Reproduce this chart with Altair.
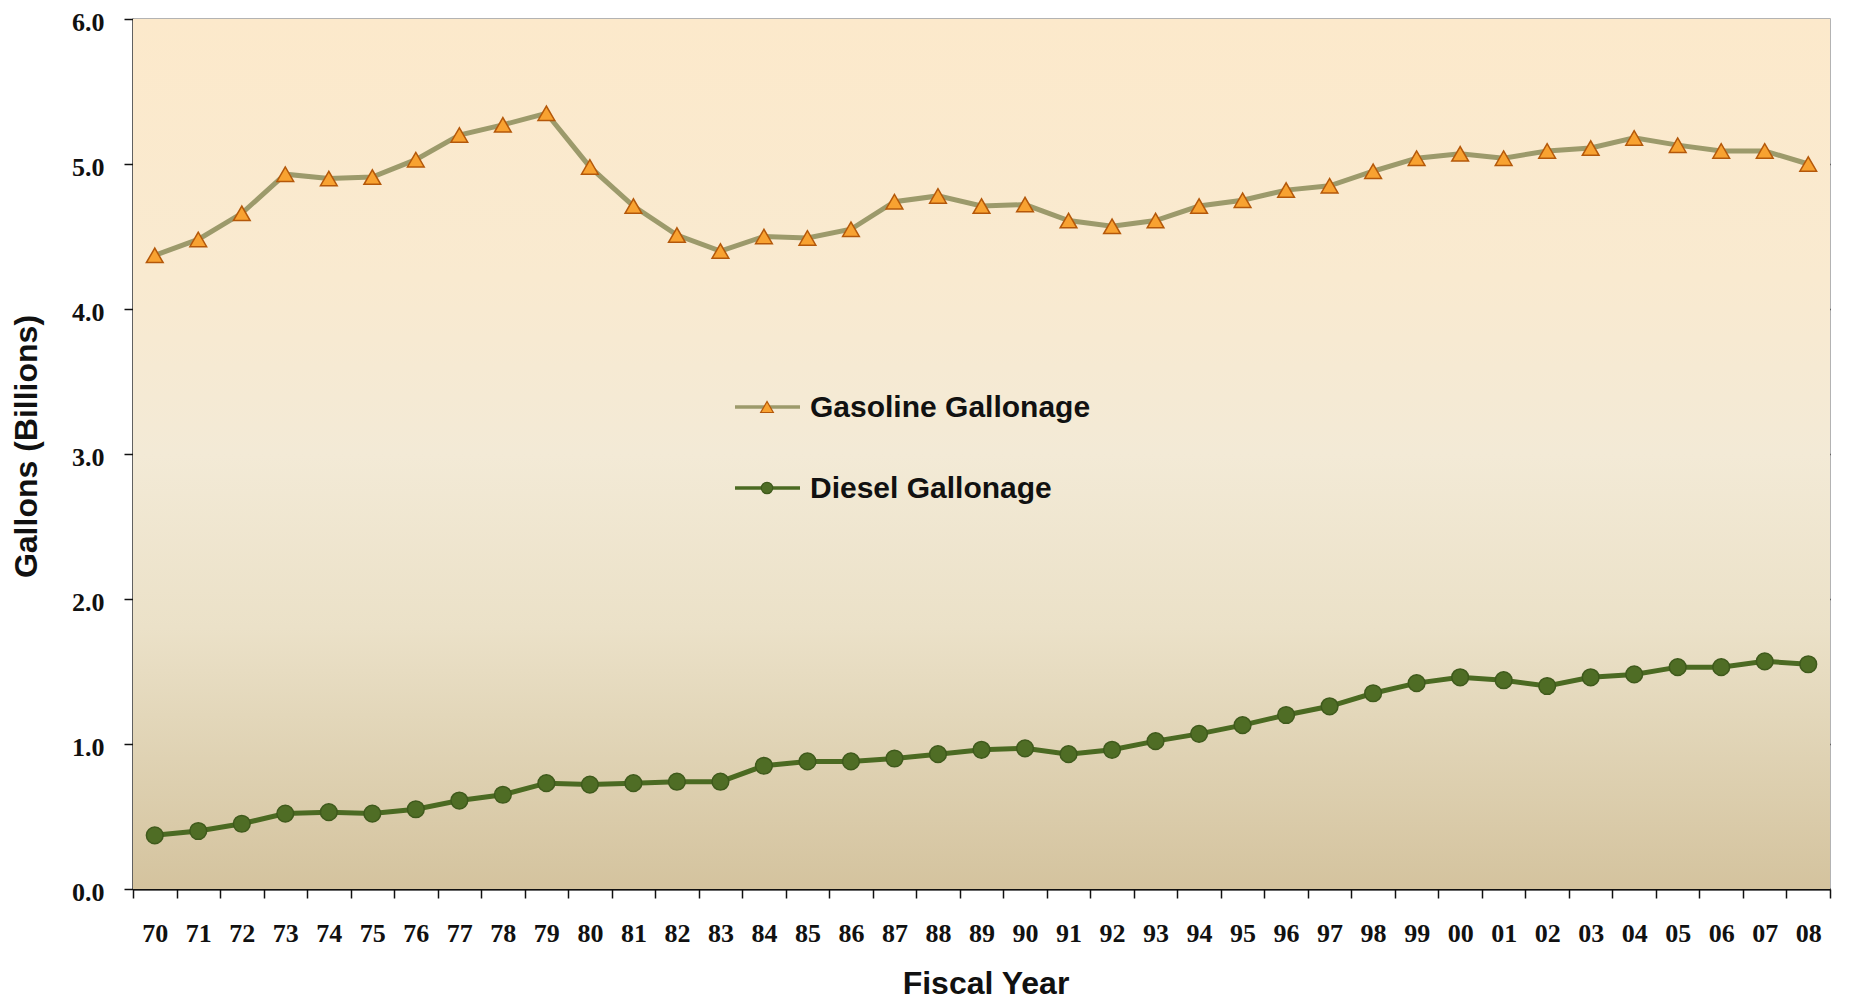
import altair as alt
import pandas as pd

years = ["70", "71", "72", "73", "74", "75", "76", "77", "78", "79",
         "80", "81", "82", "83", "84", "85", "86", "87", "88", "89",
         "90", "91", "92", "93", "94", "95", "96", "97", "98", "99",
         "00", "01", "02", "03", "04", "05", "06", "07", "08"]

gasoline = [4.37, 4.48, 4.66, 4.93, 4.90, 4.91, 5.03, 5.20, 5.27, 5.35,
            4.98, 4.71, 4.51, 4.40, 4.50, 4.49, 4.55, 4.74, 4.78, 4.71,
            4.72, 4.61, 4.57, 4.61, 4.71, 4.75, 4.82, 4.85, 4.95, 5.04,
            5.07, 5.04, 5.09, 5.11, 5.18, 5.13, 5.09, 5.09, 5.00]

diesel = [0.37, 0.40, 0.45, 0.52, 0.53, 0.52, 0.55, 0.61, 0.65, 0.73,
          0.72, 0.73, 0.74, 0.74, 0.85, 0.88, 0.88, 0.90, 0.93, 0.96,
          0.97, 0.93, 0.96, 1.02, 1.07, 1.13, 1.20, 1.26, 1.35, 1.42,
          1.46, 1.44, 1.40, 1.46, 1.48, 1.53, 1.53, 1.57, 1.55]

series_names = ["Gasoline Gallonage", "Diesel Gallonage"]
y_ticks = [0, 1, 2, 3, 4, 5, 6]

rows = []
for name, vals in zip(series_names, [gasoline, diesel]):
    for yr, v in zip(years, vals):
        rows.append({"year": yr, "value": v, "series": name})
df = pd.DataFrame(rows)
legend_df = pd.DataFrame({"series": series_names})

W, H = 1697, 870
line_colors = ["#9C9A6B", "#4B6A22"]
fill_colors = ["#F8A231", "#4F6D25"]
stroke_colors = ["#B4580A", "#3F5A1C"]

x_enc = alt.X("year:N", sort=years, scale=alt.Scale(paddingInner=0, paddingOuter=0),
              axis=alt.Axis(title="Fiscal Year", tickBand="extent", labelAngle=0,
                            labelFont="Liberation Serif", labelFontWeight="bold",
                            labelFontSize=26, labelColor="#111", labelPadding=22,
                            tickSize=9, tickColor="#111", tickWidth=1.5,
                            domainColor="#111", domainWidth=2,
                            titleFont="Liberation Sans", titleFontWeight="bold",
                            titleFontSize=32, titleColor="#111",
                            titleX=W / 2 + 4, titleY=104, titleBaseline="alphabetic",
                            grid=False))

y_scale = alt.Scale(domain=[0, 6], nice=False, zero=True)
y_enc = alt.Y("value:Q", scale=y_scale,
              axis=alt.Axis(title="Gallons (Billions)", values=y_ticks, format=".1f",
                            labelFont="Liberation Serif", labelFontWeight="bold",
                            labelFontSize=26, labelColor="#111", labelPadding=20,
                            labelOffset=3,
                            tickSize=9, tickColor="#111", tickWidth=1.5,
                            domainColor="#111", domainWidth=2,
                            grid=True, gridWidth=1.6,
                            gridColor={"condition": {"test": "datum.value >= 6", "value": "transparent"},
                                       "value": "#111"},
                            titleFont="Liberation Sans", titleFontWeight="bold",
                            titleFontSize=32, titleColor="#111",
                            titleX=-107, titleY=H / 2 - 8, titleAngle=270,
                            titleAlign="center", titleBaseline="middle"))

bg = alt.Chart(pd.DataFrame({"a": [0]})).mark_rect(
    fill=alt.LinearGradient(
        gradient="linear", x1=0, x2=0, y1=0, y2=1,
        stops=[alt.GradientStop(offset=0, color="#FCE9CB"),
               alt.GradientStop(offset=0.3, color="#F9EAD0"),
               alt.GradientStop(offset=0.5, color="#F3EAD6"),
               alt.GradientStop(offset=0.7, color="#EBE1C8"),
               alt.GradientStop(offset=0.85, color="#DFD2B3"),
               alt.GradientStop(offset=1, color="#D4C39E")])
).encode(
    x=alt.value(0), x2=alt.value(W),
    y=alt.datum(6, scale=y_scale), y2=alt.datum(0)
)

base = alt.Chart(df).encode(x=x_enc, y=y_enc)

lines = base.mark_line(strokeWidth=5).encode(
    color=alt.Color("series:N", sort=series_names,
                    scale=alt.Scale(domain=series_names, range=line_colors), legend=None)
)

points = base.mark_point(filled=True, size=280, strokeWidth=1.5, opacity=1).encode(
    shape=alt.Shape("series:N", scale=alt.Scale(domain=series_names, range=["triangle-up", "circle"]), legend=None),
    fill=alt.Fill("series:N", scale=alt.Scale(domain=series_names, range=fill_colors), legend=None),
    stroke=alt.Stroke("series:N", scale=alt.Scale(domain=series_names, range=stroke_colors), legend=None),
)

# Manual legend (inside plot)
leg_layers = []
leg_y = [388, 469]
for i, name in enumerate(series_names):
    ld = alt.Chart(legend_df).transform_filter(alt.datum.series == name)
    leg_layers.append(ld.mark_rule(strokeWidth=3.5, color=line_colors[i]).encode(
        x=alt.value(602), x2=alt.value(667), y=alt.value(leg_y[i])))
    leg_layers.append(ld.mark_point(filled=True, size=160 if i == 0 else 130,
                                    shape=["triangle-up", "circle"][i],
                                    fill=fill_colors[i], stroke=stroke_colors[i],
                                    strokeWidth=1.2, opacity=1).encode(
        x=alt.value(634), y=alt.value(leg_y[i])))
    leg_layers.append(ld.mark_text(align="left", baseline="middle", font="Liberation Sans",
                                   fontWeight="bold", fontSize=30, color="#111").encode(
        x=alt.value(677), y=alt.value(leg_y[i] + 1), text="series:N"))

chart = alt.layer(bg, lines, points, *leg_layers).properties(
    width=W, height=H,
    autosize=alt.AutoSizeParams(type="none"),
    padding={"left": 125, "top": 11, "right": 12, "bottom": 110},
    background="white"
).configure_view(stroke="#9A9A9A", strokeWidth=1.5)

chart.save("out.html", embed_options={"renderer": "svg", "actions": False})
